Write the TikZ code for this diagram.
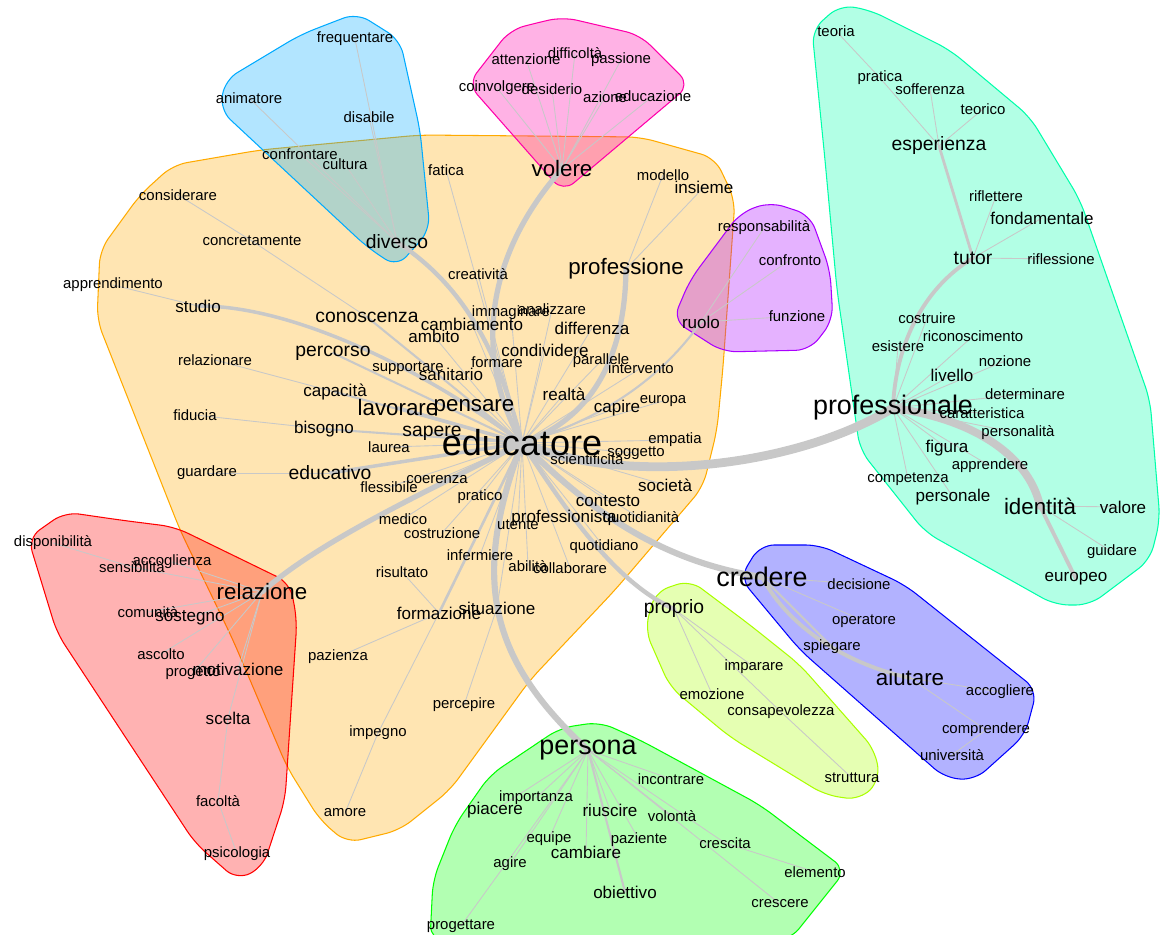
\documentclass[tikz,border=0pt]{standalone}
\usepackage{fontspec}
\setmainfont{Liberation Sans}
\usetikzlibrary{backgrounds}
\definecolor{linkgray}{RGB}{200,200,200}
\definecolor{horange}{HTML}{FFAA00}
\definecolor{hred}{HTML}{FF0000}
\definecolor{hlime}{HTML}{AAFF00}
\definecolor{hgreen}{HTML}{00FF00}
\definecolor{hmint}{HTML}{00FFAA}
\definecolor{hsky}{HTML}{00AAFF}
\definecolor{hblue}{HTML}{0000FF}
\definecolor{hpurple}{HTML}{AA00FF}
\definecolor{hpink}{HTML}{FF00AA}

\begin{document}
\begin{tikzpicture}[x=0.02cm,y=0.02cm,
    wa/.style={font=\fontsize{8.5}{9}\selectfont,inner sep=0pt},
    wb/.style={font=\fontsize{9.7}{10}\selectfont,inner sep=0pt},
    wc/.style={font=\fontsize{11}{12}\selectfont,inner sep=0pt},
    wd/.style={font=\fontsize{12.7}{13}\selectfont,inner sep=0pt},
    we/.style={font=\fontsize{15.3}{16}\selectfont,inner sep=0pt},
    wf/.style={font=\fontsize{20.5}{21}\selectfont,inner sep=0pt},
    lnk/.style={draw=linkgray,line width=0.5pt,line cap=round},
    hull/.style={rounded corners=8pt,line width=0.6pt,fill opacity=0.3}]
\useasboundingbox (0,0) rectangle (1162,-935);

% --- educatore group
\node[wf] (educatore) at (522,-443) {educatore};
\node[wa] (fatica) at (446,-170) {fatica};
\node[wa] (considerare) at (178,-195) {considerare};
\node[wa] (concretamente) at (252,-241) {concretamente};
\node[wa] (apprendimento) at (113,-285) {apprendimento};
\node[wb] (studio) at (198,-306) {studio};
\node[wc] (conoscenza) at (367,-317) {conoscenza};
\node[wb] (cambiamento) at (472,-324) {cambiamento};
\node[wb] (ambito) at (434,-336) {ambito};
\node[wa] (immaginare) at (511,-313) {immaginare};
\node[wa] (analizzare) at (552,-309) {analizzare};
\node[wb] (differenza) at (592,-328) {differenza};
\node[wb] (condividere) at (545,-350) {condividere};
\node[wa] (formare) at (497,-362) {formare};
\node[wa] (parallele) at (601,-361) {parallele};
\node[wa] (intervento) at (641,-368) {intervento};
\node[wc] (percorso) at (333,-353) {percorso};
\node[wa] (relazionare) at (215,-360) {relazionare};
\node[wa] (supportare) at (408,-368) {supportare};
\node[wb] (sanitario) at (451,-374) {sanitario};
\node[wb] (capacita) at (335,-392) {capacità};
\node[wd] (lavorare) at (398,-408) {lavorare};
\node[wd] (pensare) at (474,-408) {pensare};
\node[wb] (realta) at (564,-394) {realtà};
\node[wb] (capire) at (617,-408) {capire};
\node[wa] (europa) at (663,-401) {europa};
\node[wa] (fiducia) at (195,-415) {fiducia};
\node[wb] (bisogno) at (324,-429) {bisogno};
\node[wc] (sapere) at (432,-433) {sapere};
\node[wa] (laurea) at (389,-447) {laurea};
\node[wa] (empatia) at (675,-440) {empatia};
\node[wa] (soggetto) at (636,-453) {soggetto};
\node[wa] (scientificita) at (587,-459) {scientificità};
\node[wa] (guardare) at (207,-473) {guardare};
\node[wc] (educativo) at (330,-473) {educativo};
\node[wa] (flessibile) at (389,-487) {flessibile};
\node[wa] (coerenza) at (437,-480) {coerenza};
\node[wb] (societa) at (665,-485) {società};
\node[wa] (pratico) at (480,-497) {pratico};
\node[wb] (contesto) at (608,-501) {contesto};
\node[wa] (medico) at (403,-519) {medico};
\node[wa] (utente) at (518,-525) {utente};
\node[wb] (professionista) at (564,-518) {professionista};
\node[wa] (quotidianita) at (641,-519) {quotidianità};
\node[wa] (costruzione) at (442,-533) {costruzione};
\node[wa] (quotidiano) at (604,-547) {quotidiano};
\node[wa] (infermiere) at (480,-555) {infermiere};
\node[wa] (abilita) at (528,-566) {abilità};
\node[wa] (collaborare) at (570,-568) {collaborare};
\node[wa] (risultato) at (402,-572) {risultato};
\node[wb] (formazione) at (439,-613) {formazione};
\node[wb] (situazione) at (497,-608) {situazione};
\node[wa] (pazienza) at (338,-657) {pazienza};
\node[wa] (percepire) at (464,-705) {percepire};
\node[wa] (impegno) at (378,-733) {impegno};
\node[wa] (amore) at (345,-813) {amore};
\node[wa] (creativita) at (478,-274) {creatività};
\node[wd] (professione) at (626,-269) {professione};
\node[wa] (modello) at (663,-175) {modello};
\node[wb] (insieme) at (704,-187) {insieme};

% --- ruolo group
\node[wb] (ruolo) at (701,-322) {ruolo};
\node[wa] (responsabilita) at (764,-228) {responsabilità};
\node[wa] (confronto) at (790,-260) {confronto};
\node[wa] (funzione) at (797,-316) {funzione};

% --- volere group
\node[wd] (volere) at (562,-169) {volere};
\node[wa] (attenzione) at (526,-59) {attenzione};
\node[wa] (difficolta) at (575,-53) {difficoltà};
\node[wa] (passione) at (621,-60) {passione};
\node[wa] (coinvolgere) at (497,-88) {coinvolgere};
\node[wa] (desiderio) at (552,-89) {desiderio};
\node[wa] (azione) at (605,-97) {azione};
\node[wa] (educazione) at (653,-96) {educazione};

% --- diverso group
\node[wc] (diverso) at (397,-242) {diverso};
\node[wa] (frequentare) at (355,-39) {frequentare};
\node[wa] (animatore) at (249,-98) {animatore};
\node[wa] (disabile) at (369,-117) {disabile};
\node[wa] (confrontare) at (300,-154) {confrontare};
\node[wa] (cultura) at (345,-164) {cultura};

% --- professionale group
\node[we] (professionale) at (893,-408) {professionale};
\node[wa] (teoria) at (836,-31) {teoria};
\node[wa] (pratica) at (880,-78) {pratica};
\node[wa] (sofferenza) at (930,-89) {sofferenza};
\node[wa] (teorico) at (983,-109) {teorico};
\node[wc] (esperienza) at (939,-146) {esperienza};
\node[wa] (riflettere) at (996,-196) {riflettere};
\node[wb] (fondamentale) at (1042,-218) {fondamentale};
\node[wc] (tutor) at (973,-258) {tutor};
\node[wa] (riflessione) at (1061,-259) {riflessione};
\node[wa] (costruire) at (927,-318) {costruire};
\node[wa] (riconoscimento) at (973,-336) {riconoscimento};
\node[wa] (esistere) at (898,-346) {esistere};
\node[wa] (nozione) at (1005,-361) {nozione};
\node[wb] (livello) at (952,-375) {livello};
\node[wa] (determinare) at (1025,-394) {determinare};
\node[wa] (caratteristica) at (982,-413) {caratteristica};
\node[wa] (personalita) at (1018,-433) {personalità};
\node[wb] (figura) at (947,-448) {figura};
\node[wa] (apprendere) at (990,-466) {apprendere};
\node[wa] (competenza) at (908,-479) {competenza};
\node[wb] (personale) at (953,-497) {personale};
\node[wd] (identita) at (1040,-506) {identità};
\node[wb] (valore) at (1123,-507) {valore};
\node[wa] (guidare) at (1112,-552) {guidare};
\node[wb] (europeo) at (1076,-579) {europeo};

% --- relazione group
\node[wd] (relazione) at (262,-592) {relazione};
\node[wa] (disponibilita) at (53,-543) {disponibilità};
\node[wa] (sensibilita) at (132,-567) {sensibilità};
\node[wa] (accoglienza) at (172,-562) {accoglienza};
\node[wa] (comunita) at (148,-612) {comunità};
\node[wb] (sostegno) at (190,-618) {sostegno};
\node[wa] (ascolto) at (161,-654) {ascolto};
\node[wa] (progetto) at (193,-673) {progetto};
\node[wb] (motivazione) at (238,-669) {motivazione};
\node[wb] (scelta) at (228,-718) {scelta};
\node[wa] (facolta) at (218,-801) {facoltà};
\node[wa] (psicologia) at (237,-854) {psicologia};

% --- credere group
\node[we] (credere) at (762,-577) {credere};
\node[wa] (decisione) at (859,-584) {decisione};
\node[wa] (operatore) at (864,-621) {operatore};
\node[wa] (spiegare) at (832,-647) {spiegare};
\node[wd] (aiutare) at (910,-678) {aiutare};
\node[wa] (accogliere) at (1000,-692) {accogliere};
\node[wa] (comprendere) at (986,-730) {comprendere};
\node[wa] (universita) at (952,-755) {università};

% --- proprio group
\node[wc] (proprio) at (674,-609) {proprio};
\node[wa] (imparare) at (754,-667) {imparare};
\node[wa] (emozione) at (712,-694) {emozione};
\node[wa] (consapevolezza) at (781,-712) {consapevolezza};
\node[wa] (struttura) at (852,-778) {struttura};

% --- persona group
\node[we] (persona) at (588,-750) {persona};
\node[wa] (incontrare) at (671,-779) {incontrare};
\node[wa] (importanza) at (536,-798) {importanza};
\node[wb] (piacere) at (495,-810) {piacere};
\node[wb] (riuscire) at (610,-810) {riuscire};
\node[wa] (volonta) at (672,-816) {volontà};
\node[wa] (equipe) at (549,-839) {equipe};
\node[wa] (paziente) at (639,-840) {paziente};
\node[wb] (cambiare) at (586,-852) {cambiare};
\node[wa] (crescita) at (725,-843) {crescita};
\node[wa] (agire) at (510,-864) {agire};
\node[wa] (elemento) at (815,-872) {elemento};
\node[wb] (obiettivo) at (625,-892) {obiettivo};
\node[wa] (crescere) at (780,-904) {crescere};
\node[wa] (progettare) at (461,-926) {progettare};

\begin{pgfonlayer}{background}
  % hulls
  \draw[hull,draw=horange,fill=horange] (530,-136) -- (640,-137) -- (715,-158) -- (735,-200) -- (723,-367) -- (717,-430) -- (703,-487) -- (615,-590) -- (530,-680) -- (450,-790) -- (400,-830) -- (347,-843) -- (320,-820) -- (287,-767) -- (233,-640) -- (180,-530) -- (97,-320) -- (100,-250) -- (140,-195) -- (173,-165) -- (260,-150) -- (420,-135) -- cycle;
  \draw[hull,draw=hsky,fill=hsky] (328,-24) -- (357,-13) -- (400,-40) -- (420,-130) -- (430,-230) -- (397,-267) -- (367,-247) -- (220,-110) -- (225,-80) -- (300,-35) -- cycle;
  \draw[hull,draw=hpink,fill=hpink] (536,-23) -- (563,-17) -- (640,-35) -- (690,-85) -- (563,-192) -- (468,-84) -- (510,-30) -- cycle;
  \draw[hull,draw=hpurple,fill=hpurple] (766,-351) -- (723,-352) -- (673,-320) -- (690,-280) -- (740,-213) -- (770,-202) -- (810,-215) -- (830,-270) -- (833,-320) -- (810,-350) -- cycle;
  \draw[hull,draw=hmint,fill=hmint] (825,-160) -- (812,-30) -- (840,-5) -- (870,-10) -- (950,-50) -- (1030,-117) -- (1080,-200) -- (1115,-300) -- (1150,-400) -- (1160,-520) -- (1150,-560) -- (1090,-605) -- (1055,-605) -- (925,-532) -- (860,-450) -- (837,-290) -- cycle;
  \draw[hull,draw=hred,fill=hred] (120,-520) -- (175,-527) -- (290,-583) -- (297,-620) -- (285,-800) -- (263,-867) -- (237,-880) -- (195,-843) -- (57,-633) -- (28,-538) -- (65,-512) -- cycle;
  \draw[hull,draw=hblue,fill=hblue] (790,-545) -- (820,-545) -- (905,-585) -- (1037,-690) -- (1025,-735) -- (975,-780) -- (945,-778) -- (800,-650) -- (740,-578) -- (760,-545) -- cycle;
  \draw[hull,draw=hlime,fill=hlime] (750,-625) -- (800,-665) -- (875,-750) -- (880,-780) -- (860,-800) -- (825,-795) -- (730,-737) -- (670,-687) -- (645,-630) -- (655,-592) -- (690,-580) -- cycle;
  \draw[hull,draw=hgreen,fill=hgreen] (610,-940) -- (430,-940) -- (433,-880) -- (455,-825) -- (490,-775) -- (560,-728) -- (600,-722) -- (640,-740) -- (760,-805) -- (846,-870) -- (790,-940) -- cycle;

  % thin links
  \foreach \a/\b in {fatica/educatore, considerare/concretamente, concretamente/conoscenza,
      apprendimento/studio, relazionare/capacita, fiducia/bisogno, guardare/educativo,
      creativita/educatore, modello/professione, insieme/professione, cambiamento/educatore,
      ambito/educatore, immaginare/educatore, analizzare/educatore, differenza/educatore,
      condividere/educatore, formare/educatore, parallele/educatore, intervento/educatore,
      supportare/educatore, sanitario/educatore, realta/educatore, capire/educatore,
      europa/educatore, laurea/educatore, empatia/educatore, soggetto/educatore,
      scientificita/educatore, flessibile/educatore, coerenza/educatore, societa/educatore,
      pratico/educatore, contesto/educatore, medico/educatore, utente/educatore,
      quotidianita/educatore, costruzione/educatore, quotidiano/educatore,
      infermiere/educatore, abilita/educatore, collaborare/educatore, risultato/formazione,
      situazione/educatore, pazienza/formazione, percepire/situazione, impegno/formazione,
      amore/impegno,
      responsabilita/ruolo, confronto/ruolo, funzione/ruolo,
      attenzione/volere, difficolta/volere, passione/volere, coinvolgere/volere,
      desiderio/volere, azione/volere, educazione/volere,
      frequentare/diverso, animatore/diverso, disabile/diverso, confrontare/diverso, cultura/diverso,
      teoria/pratica, pratica/esperienza, sofferenza/esperienza, teorico/esperienza,
      riflettere/tutor, fondamentale/tutor, riflessione/tutor, costruire/professionale,
      riconoscimento/professionale, esistere/professionale, nozione/professionale,
      livello/professionale, determinare/professionale, caratteristica/professionale,
      personalita/professionale, figura/professionale, apprendere/professionale,
      competenza/professionale, personale/professionale, valore/identita, guidare/identita,
      disponibilita/sensibilita, sensibilita/relazione, accoglienza/relazione,
      comunita/relazione, sostegno/relazione, ascolto/relazione, progetto/relazione,
      motivazione/relazione, scelta/relazione, facolta/scelta, psicologia/facolta,
      decisione/credere, operatore/credere, accogliere/aiutare, comprendere/aiutare,
      universita/comprendere,
      imparare/proprio, emozione/proprio, consapevolezza/proprio, struttura/consapevolezza,
      incontrare/persona, importanza/persona, piacere/persona, riuscire/persona,
      volonta/persona, equipe/persona, paziente/persona, cambiare/persona, crescita/persona,
      agire/persona, elemento/crescita, crescere/persona, progettare/persona}
    \draw[lnk] (\a.center) -- (\b.center);

  % medium links
  \foreach \a/\b/\w in {conoscenza/educatore/1.2, percorso/educatore/1.2, capacita/educatore/1.2,
      bisogno/educatore/1.2, sapere/educatore/1.5, formazione/educatore/1.5,
      lavorare/educatore/2, pensare/educatore/2, educativo/educatore/2,
      spiegare/credere/1.2, obiettivo/persona/1.2, esperienza/tutor/1.6,
      europeo/identita/2.2}
    \draw[lnk,line width=\w pt] (\a.center) -- (\b.center);

  % main branches
  \draw[lnk,line width=5pt] (educatore.center) .. controls (620,-485) and (790,-470) .. (professionale.center);
  \draw[lnk,line width=3.5pt] (educatore.center) .. controls (470,-580) and (490,-660) .. (persona.center);
  \draw[lnk,line width=3pt] (educatore.center) .. controls (430,-490) and (320,-540) .. (relazione.center);
  \draw[lnk,line width=3.5pt] (educatore.center) .. controls (580,-500) and (650,-560) .. (credere.center);
  \draw[lnk,line width=2.5pt] (educatore.center) .. controls (560,-500) and (610,-580) .. (proprio.center);
  \draw[lnk,line width=3pt] (educatore.center) .. controls (470,-350) and (490,-250) .. (volere.center);
  \draw[lnk,line width=3pt] (educatore.center) .. controls (590,-420) and (625,-360) .. (professione.center);
  \draw[lnk,line width=2.5pt] (educatore.center) .. controls (500,-360) and (470,-290) .. (diverso.center);
  \draw[lnk,line width=2pt] (educatore.center) .. controls (440,-380) and (300,-305) .. (studio.center);
  \draw[lnk,line width=1.2pt] (educatore.center) .. controls (600,-420) and (660,-380) .. (ruolo.center);
  \draw[lnk,line width=4.5pt] (professionale.center) .. controls (980,-420) and (1030,-460) .. (identita.center);
  \draw[lnk,line width=2.2pt] (professionale.center) .. controls (895,-350) and (920,-290) .. (tutor.center);
  \draw[lnk,line width=2.2pt] (credere.center) .. controls (790,-630) and (850,-665) .. (aiutare.center);
\end{pgfonlayer}
\end{tikzpicture}
\end{document}
